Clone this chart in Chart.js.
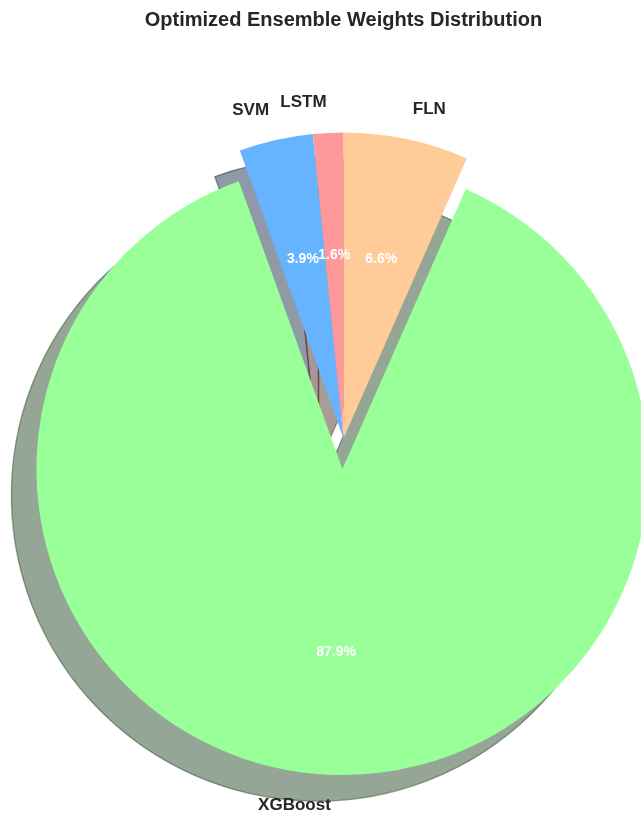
<!DOCTYPE html>
<html>
<head>
<meta charset="utf-8">
<script src="https://cdn.jsdelivr.net/npm/chart.js@4/dist/chart.umd.min.js"></script>
<style>
  body { margin: 0; background: #fff; }
  .wrap { width: 641px; height: 816px; position: relative; }
</style>
</head>
<body>
<div class="wrap"><canvas id="weights"></canvas></div>
<script>
// data (clockwise from the top)
const models = ["FLN", "XGBoost", "SVM", "LSTM"];
const weights = [6.6, 87.9, 3.9, 1.6];
const sliceColors = ["#ffcc99", "#99ff99", "#66b3ff", "#ff9999"];
const explode = [0, 0.1, 0, 0]; // fraction of the radius

function hexRgb(h) {
  return [1, 3, 5].map((i) => parseInt(h.substr(i, 2), 16));
}

// pull exploded slices away from the centre (whole wedge moves, like matplotlib)
const explodePlugin = {
  id: "explode",
  afterDatasetUpdate(chart) {
    const arcs = chart.getDatasetMeta(0).data;
    arcs.forEach((arc, i) => {
      const d = explode[i] * arc.outerRadius;
      if (!d) return;
      const mid = (arc.startAngle + arc.endAngle) / 2;
      arc.x += Math.cos(mid) * d;
      arc.y += Math.sin(mid) * d;
    });
  },
};

const shadowPlugin = {
  id: "pieShadow",
  beforeDatasetsDraw(chart) {
    const ctx = chart.ctx;
    const arcs = chart.getDatasetMeta(0).data;
    ctx.save();
    arcs.forEach((arc, i) => {
      const cx = arc.x - 25;
      const cy = arc.y + 26;
      const c = hexRgb(sliceColors[i]).map((v) => Math.round(v * 0.3));
      const col = "rgba(" + c.join(",") + ",0.5)";
      ctx.beginPath();
      ctx.moveTo(cx, cy);
      ctx.arc(cx, cy, arc.outerRadius, arc.startAngle, arc.endAngle);
      ctx.closePath();
      ctx.fillStyle = col;
      ctx.fill();
      ctx.strokeStyle = col;
      ctx.lineWidth = 1.4;
      ctx.stroke();
    });
    ctx.restore();
  },
};

const labelPlugin = {
  id: "pieLabels",
  afterDatasetsDraw(chart) {
    const ctx = chart.ctx;
    const arcs = chart.getDatasetMeta(0).data;
    const total = weights.reduce((a, b) => a + b, 0);
    ctx.save();
    ctx.textBaseline = "middle";
    arcs.forEach((arc, i) => {
      const mid = (arc.startAngle + arc.endAngle) / 2;
      const r = arc.outerRadius;

      // name outside
      const lx = Math.cos(mid) * r * 1.1;
      const ly = Math.sin(mid) * r * 1.1;
      ctx.font = "bold 17px 'Liberation Sans', Arial, sans-serif";
      ctx.fillStyle = "#262626";
      ctx.textAlign = lx < 0 ? "right" : "left";
      ctx.fillText(models[i], arc.x + lx, arc.y + ly);

      // percentage inside
      ctx.font = "bold 14px 'Liberation Sans', Arial, sans-serif";
      ctx.fillStyle = "#ffffff";
      ctx.textAlign = "center";
      const pct = ((weights[i] / total) * 100).toFixed(1) + "%";
      ctx.fillText(pct, arc.x + Math.cos(mid) * r * 0.6, arc.y + Math.sin(mid) * r * 0.6);
    });
    ctx.restore();
  },
};

const ctx = document.getElementById("weights");

new Chart(ctx, {
  type: "pie",
  data: {
    labels: models,
    datasets: [
      {
        data: weights,
        backgroundColor: sliceColors,
        borderWidth: 0,
        clip: false,
      },
    ],
  },
  options: {
    responsive: true,
    maintainAspectRatio: false,
    animation: false,
    events: [],
    radius: 306,
    layout: {
      padding: { left: 46, right: 0, top: 0, bottom: 0 },
    },
    plugins: {
      legend: { display: false },
      tooltip: { enabled: false },
      title: {
        display: true,
        text: "Optimized Ensemble Weights Distribution",
        color: "#262626",
        font: { family: "'Liberation Sans', Arial, sans-serif", size: 20, weight: "bold" },
        padding: { top: 8, bottom: 29 },
      },
    },
  },
  plugins: [explodePlugin, shadowPlugin, labelPlugin],
});
</script>
</body>
</html>
